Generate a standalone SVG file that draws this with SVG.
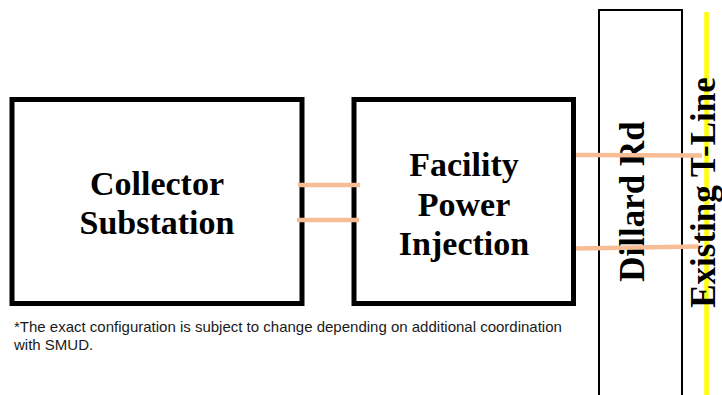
<svg xmlns="http://www.w3.org/2000/svg" width="722" height="395" viewBox="0 0 722 395">
  <style>
    .box { fill: #ffffff; stroke: #000000; stroke-width: 5; }
    .road { fill: #ffffff; stroke: #000000; stroke-width: 2; }
    .label { font-family: "Liberation Serif", "Times New Roman", serif; font-weight: bold; font-size: 34px; fill: #000000; text-anchor: middle; }
    .vlabel { font-family: "Liberation Serif", "Times New Roman", serif; font-weight: bold; font-size: 35px; fill: #000000; text-anchor: middle; }
    .feed { stroke: #F7BE96; stroke-width: 4.5; fill: none; }
    .tline { stroke: #FFFF00; stroke-width: 4.5; fill: none; }
    .note { font-family: "Liberation Sans", Arial, sans-serif; font-size: 15px; fill: #1a1a1a; }
  </style>

  <rect width="722" height="395" fill="#ffffff"/>

  <!-- road corridor -->
  <g id="dillard-rd">
    <rect class="road" x="599" y="10" width="83" height="400"/>
    <text class="vlabel" transform="translate(644,201.5) rotate(-90)">Dillard Rd</text>
  </g>

  <!-- existing transmission line -->
  <g id="existing-t-line">
    <line class="tline" x1="706.5" y1="12" x2="706.5" y2="395"/>
    <text class="vlabel" transform="translate(715,192.5) rotate(-90)">Existing T-Line</text>
  </g>

  <g id="collector-substation">
    <rect class="box" x="12" y="99.5" width="290" height="204"/>
    <text class="label" x="157" y="194.5">Collector</text>
    <text class="label" x="157" y="233.5">Substation</text>
  </g>

  <g id="facility-power-injection">
    <rect class="box" x="354" y="99.5" width="219.5" height="204"/>
    <text class="label" x="464" y="176">Facility</text>
    <text class="label" x="464" y="215.5">Power</text>
    <text class="label" x="464" y="255">Injection</text>
  </g>

  <!-- connections -->
  <g id="connectors">
    <line class="feed" x1="298" y1="185" x2="360" y2="185"/>
    <line class="feed" x1="297" y1="220" x2="359" y2="220"/>
    <line class="feed" x1="576" y1="155" x2="702" y2="155.5"/>
    <line class="feed" x1="576" y1="248.5" x2="698" y2="246.5"/>
  </g>

  <g id="footnote">
    <text class="note" x="14" y="332">*The exact configuration is subject to change depending on additional coordination</text>
    <text class="note" x="14" y="349.5">with SMUD.</text>
  </g>
</svg>
